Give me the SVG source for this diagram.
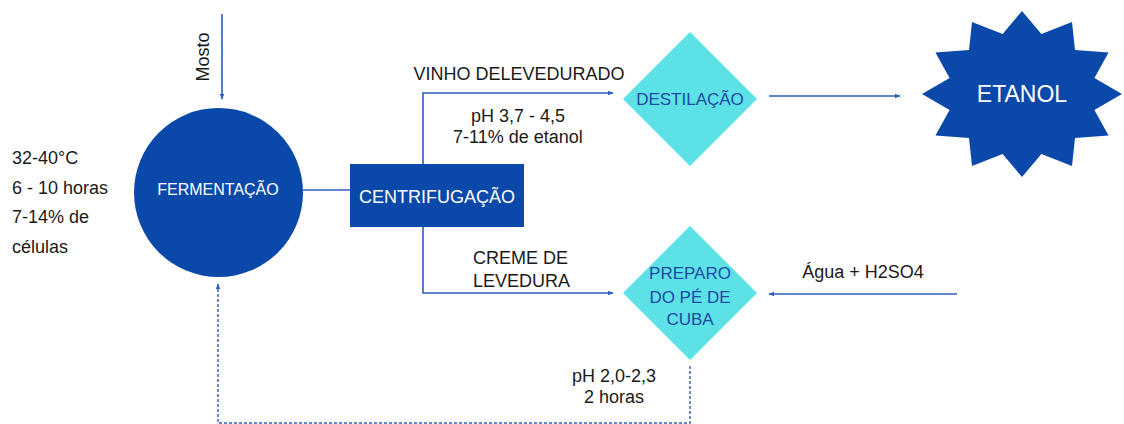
<svg xmlns="http://www.w3.org/2000/svg" width="1124" height="424" viewBox="0 0 1124 424">
<defs>
<marker id="ah" viewBox="0 0 10 10" refX="9" refY="5" markerWidth="6" markerHeight="6" orient="auto" markerUnits="userSpaceOnUse">
<path d="M0,1 L10,5 L0,9 z" fill="#2f5fba"/>
</marker>
<style>
.ln{fill:none;stroke:#2f5fba;stroke-width:1.6}
.dash{fill:none;stroke:#2f5fba;stroke-width:1.4;stroke-dasharray:3 2}
.t{font-family:"Liberation Sans",Arial,sans-serif;fill:#1a1a1a;font-size:18px}
.w{font-family:"Liberation Sans",Arial,sans-serif;fill:#ffffff}
.d{font-family:"Liberation Sans",Arial,sans-serif;fill:#1c4aa5;font-size:17px}
.dark{fill:#0a49aa}
.cy{fill:#5ce1e6}
</style>
</defs>
<rect width="1124" height="424" fill="#ffffff"/>
<g id="connectors">
<line class="ln" x1="222" y1="14" x2="222" y2="99" marker-end="url(#ah)"/>
<line class="ln" x1="303" y1="190" x2="350" y2="190"/>
<polyline class="ln" points="423,164 423,93 613,93" marker-end="url(#ah)"/>
<polyline class="ln" points="423,227 423,293 613,293" marker-end="url(#ah)"/>
<line class="ln" x1="769" y1="96" x2="900" y2="96" marker-end="url(#ah)"/>
<line class="ln" x1="957" y1="294" x2="769" y2="294" marker-end="url(#ah)"/>
<polyline class="dash" points="690,366 690,423 218,423 218,284" marker-end="url(#ah)"/>
</g>
<g id="fermentacao">
<circle class="dark" cx="218.5" cy="192.5" r="84.5"/>
<text class="w" x="218" y="195" font-size="16" text-anchor="middle">FERMENTAÇÃO</text>
</g>
<g id="centrifugacao">
<rect class="dark" x="350" y="164" width="174" height="63"/>
<text class="w" x="437" y="203" font-size="18" text-anchor="middle">CENTRIFUGAÇÃO</text>
</g>
<g id="destilacao">
<polygon class="cy" points="690,32 757,99 690,166 623,99"/>
<text class="d" x="690" y="105" font-size="18" text-anchor="middle">DESTILAÇÃO</text>
</g>
<g id="preparo">
<polygon class="cy" points="690,226 757,293 690,360 623,293"/>
<text class="d" x="690" y="279" text-anchor="middle">PREPARO</text>
<text class="d" x="690" y="303" text-anchor="middle">DO PÉ DE</text>
<text class="d" x="690" y="325" text-anchor="middle">CUBA</text>
</g>
<g id="etanol">
<polygon class="dark" points="1022,11 1041.4,33.9 1072,22.1 1075,50 1108.6,52.5 1094.4,77.9 1122,94 1094.4,110.1 1108.6,135.5 1075,138 1072,165.9 1041.4,154.1 1022,177 1002.6,154.1 972,165.9 969,138 935.4,135.5 949.6,110.1 922,94 949.6,77.9 935.4,52.5 969,50 972,22.1 1002.6,33.9"/>
<text class="w" x="1022" y="102" font-size="23" text-anchor="middle">ETANOL</text>
</g>
<g id="labels">
<text class="t" x="209" y="57" font-size="19" text-anchor="middle" transform="rotate(-90 209 57)">Mosto</text>
<text class="t" x="12" y="164" font-size="20">32-40°C</text>
<text class="t" x="12" y="194" font-size="20">6 - 10 horas</text>
<text class="t" x="12" y="223" font-size="20">7-14% de</text>
<text class="t" x="12" y="253" font-size="20">células</text>
<text class="t" x="519" y="80" text-anchor="middle">VINHO DELEVEDURADO</text>
<text class="t" x="518" y="122" text-anchor="middle">pH 3,7 - 4,5</text>
<text class="t" x="518" y="143" text-anchor="middle">7-11% de etanol</text>
<text class="t" x="473" y="264">CREME DE</text>
<text class="t" x="473" y="287">LEVEDURA</text>
<text class="t" x="863" y="278" text-anchor="middle">Água + H2SO4</text>
<text class="t" x="614" y="382" font-size="19" text-anchor="middle">pH 2,0-2,3</text>
<text class="t" x="614" y="403" font-size="19" text-anchor="middle">2 horas</text>
</g>
</svg>
